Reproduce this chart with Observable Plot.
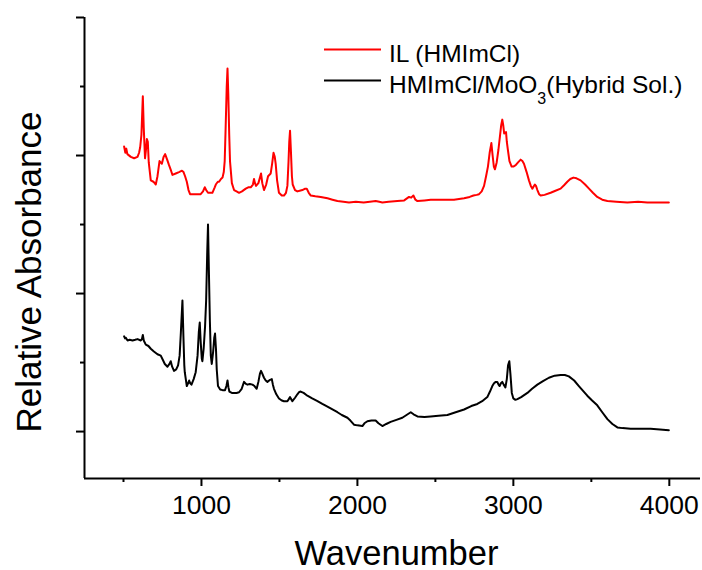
<!DOCTYPE html>
<html><head><meta charset="utf-8">
<script src="https://cdn.jsdelivr.net/npm/d3@7"></script>
<script src="https://cdn.jsdelivr.net/npm/@observablehq/plot@0.6"></script>
<style>
body{margin:0;background:#fff;}
#wrap{position:relative;width:702px;height:570px;overflow:hidden;}
#wrap svg{font-family:"Liberation Sans",Arial,sans-serif;}
#legend{position:absolute;left:0;top:0;pointer-events:none;}
</style></head><body><div id="wrap"></div>
<script>
// ---- data (wavenumber, relative absorbance) ----
const ilSpectrum = [[504,2.065],[512,2.02],[518,2.05],[525,2.01],[547,1.99],[568,1.98],[590,1.99],[600,2.02],[607,2.06],[615,2.15],[624,2.43],[630,2.2],[638,1.98],[645,2.05],[650,2.12],[656,2.1],[662,1.95],[675,1.82],[692,1.81],[700,1.8],[707,1.79],[718,1.85],[731,1.96],[738,1.95],[746,1.94],[757,1.99],[767,2.01],[780,1.97],[792,1.93],[805,1.89],[814,1.86],[835,1.87],[856,1.88],[875,1.89],[885,1.88],[895,1.85],[906,1.81],[917,1.75],[927,1.72],[945,1.72],[963,1.72],[980,1.72],[995,1.72],[1010,1.74],[1021,1.77],[1030,1.75],[1042,1.73],[1070,1.73],[1085,1.77],[1092,1.79],[1105,1.81],[1113,1.81],[1125,1.83],[1135,1.84],[1143,1.88],[1149,1.96],[1155,2.2],[1162,2.5],[1167,2.63],[1172,2.45],[1178,2.15],[1183,1.96],[1195,1.8],[1209,1.75],[1225,1.74],[1241,1.73],[1260,1.74],[1284,1.76],[1300,1.77],[1316,1.77],[1330,1.79],[1337,1.83],[1343,1.8],[1350,1.78],[1365,1.8],[1375,1.84],[1382,1.87],[1390,1.8],[1401,1.75],[1415,1.79],[1427,1.85],[1444,1.87],[1453,1.94],[1462,2.02],[1470,1.99],[1476,1.94],[1485,1.82],[1497,1.73],[1515,1.71],[1529,1.71],[1542,1.73],[1551,1.78],[1558,1.95],[1563,2.1],[1568,2.18],[1573,2.05],[1580,1.85],[1585,1.79],[1600,1.75],[1615,1.74],[1630,1.745],[1647,1.75],[1665,1.76],[1675,1.76],[1688,1.73],[1701,1.71],[1730,1.705],[1765,1.7],[1808,1.69],[1840,1.68],[1872,1.67],[1910,1.665],[1946,1.66],[1990,1.665],[2040,1.66],[2080,1.665],[2117,1.67],[2140,1.665],[2160,1.66],[2200,1.665],[2256,1.67],[2300,1.675],[2331,1.7],[2345,1.695],[2359,1.71],[2372,1.68],[2385,1.67],[2430,1.675],[2470,1.68],[2540,1.68],[2619,1.68],[2684,1.69],[2720,1.7],[2744,1.71],[2765,1.715],[2780,1.72],[2797,1.74],[2812,1.78],[2825,1.85],[2837,1.92],[2848,2.02],[2859,2.09],[2867,2.0],[2875,1.92],[2882,1.9],[2893,1.95],[2904,2.04],[2915,2.15],[2922,2.22],[2929,2.26],[2935,2.22],[2941,2.16],[2946,2.165],[2953,2.17],[2958,2.1],[2965,2.04],[2975,1.96],[2989,1.92],[3000,1.92],[3015,1.93],[3030,1.95],[3047,1.97],[3058,1.96],[3068,1.94],[3085,1.88],[3100,1.82],[3112,1.78],[3122,1.76],[3130,1.775],[3138,1.79],[3145,1.78],[3154,1.75],[3165,1.72],[3175,1.71],[3200,1.715],[3239,1.73],[3270,1.745],[3303,1.76],[3325,1.785],[3346,1.81],[3365,1.83],[3385,1.84],[3405,1.835],[3431,1.82],[3460,1.79],[3485,1.76],[3510,1.73],[3538,1.7],[3570,1.68],[3603,1.67],[3660,1.665],[3731,1.66],[3800,1.665],[3859,1.66],[3930,1.66],[3997,1.66]];
const hybridSpectrum = [[504,0.69],[510,0.675],[515,0.68],[526,0.66],[540,0.665],[558,0.66],[575,0.665],[590,0.67],[611,0.66],[618,0.67],[624,0.7],[630,0.66],[643,0.63],[660,0.62],[675,0.6],[695,0.58],[718,0.56],[739,0.55],[752,0.52],[765,0.49],[782,0.47],[795,0.49],[803,0.51],[812,0.47],[824,0.44],[838,0.45],[850,0.48],[860,0.55],[868,0.72],[878,0.95],[884,0.7],[890,0.48],[893,0.43],[906,0.33],[914,0.35],[921,0.37],[928,0.35],[936,0.34],[950,0.38],[963,0.43],[975,0.55],[983,0.72],[989,0.79],[995,0.65],[1002,0.53],[1006,0.51],[1014,0.6],[1023,0.76],[1030,0.95],[1037,1.3],[1042,1.5],[1047,1.2],[1054,0.8],[1060,0.55],[1066,0.49],[1075,0.58],[1082,0.68],[1087,0.71],[1093,0.6],[1098,0.45],[1106,0.33],[1120,0.305],[1135,0.3],[1151,0.3],[1160,0.33],[1167,0.37],[1173,0.32],[1179,0.29],[1195,0.28],[1209,0.28],[1225,0.28],[1241,0.285],[1258,0.31],[1273,0.36],[1285,0.345],[1295,0.34],[1310,0.345],[1327,0.34],[1340,0.33],[1354,0.31],[1365,0.36],[1375,0.42],[1382,0.44],[1390,0.42],[1401,0.39],[1412,0.37],[1423,0.36],[1440,0.375],[1451,0.38],[1458,0.34],[1465,0.31],[1480,0.27],[1497,0.24],[1515,0.225],[1529,0.22],[1551,0.22],[1560,0.235],[1568,0.25],[1575,0.235],[1583,0.22],[1600,0.245],[1615,0.27],[1625,0.285],[1636,0.29],[1655,0.28],[1679,0.26],[1710,0.24],[1744,0.22],[1775,0.2],[1808,0.18],[1840,0.16],[1872,0.14],[1900,0.12],[1936,0.1],[1955,0.08],[1978,0.05],[2000,0.045],[2032,0.04],[2045,0.06],[2064,0.075],[2090,0.08],[2117,0.08],[2135,0.06],[2160,0.04],[2185,0.055],[2213,0.07],[2250,0.085],[2288,0.1],[2315,0.12],[2342,0.14],[2360,0.125],[2385,0.11],[2430,0.105],[2470,0.11],[2520,0.115],[2577,0.12],[2630,0.14],[2684,0.16],[2730,0.185],[2769,0.2],[2800,0.22],[2833,0.25],[2850,0.29],[2865,0.33],[2876,0.35],[2887,0.36],[2897,0.36],[2905,0.34],[2912,0.33],[2920,0.35],[2929,0.36],[2938,0.34],[2949,0.32],[2958,0.38],[2966,0.48],[2974,0.51],[2981,0.42],[2990,0.28],[3000,0.24],[3013,0.23],[3026,0.235],[3050,0.25],[3090,0.28],[3120,0.31],[3154,0.34],[3190,0.365],[3228,0.39],[3265,0.405],[3303,0.41],[3330,0.41],[3356,0.4],[3390,0.37],[3420,0.33],[3447,0.295],[3474,0.26],[3505,0.225],[3538,0.19],[3570,0.14],[3603,0.09],[3635,0.055],[3667,0.03],[3700,0.025],[3752,0.02],[3820,0.02],[3880,0.02],[3940,0.015],[3997,0.01]];
const xMajorTicks = [1000, 2000, 3000, 4000];
const xMinorTicks = [500, 1500, 2500, 3500];
const yMajorTicks = [0, 1, 2, 3];
const yMinorTicks = [0.5, 1.5, 2.5];
const xDomain = [250, 4200];
const yDomain = [-0.34, 3];
const seriesColors = ["#ff0000", "#000000"];
const xLabel = "Wavenumber";
const yLabel = "Relative Absorbance";
const legendMain = ["IL (HMImCl)", "HMImCl/MoO"];
const legendSub = "3";
const legendTail = "(Hybrid Sol.)";

const font = '"Liberation Sans", Arial, sans-serif';
const chart = Plot.plot({
  width: 702, height: 570,
  marginLeft: 84, marginRight: 2, marginTop: 17, marginBottom: 92,
  style: {fontFamily: font, background: "#fff", color: "#000"},
  x: {domain: xDomain},
  y: {domain: yDomain},
  marks: [
    Plot.axisX({ticks: xMinorTicks, tickSize: 4, text: null, strokeWidth: 2, label: null}),
    Plot.axisX({ticks: xMajorTicks, tickSize: 8, tickPadding: 9, fontSize: 26.5, strokeWidth: 2, label: null, tickFormat: d => String(d)}),
    Plot.axisY({ticks: yMinorTicks, tickSize: 4, text: null, strokeWidth: 2, label: null}),
    Plot.axisY({ticks: yMajorTicks, tickSize: 8, text: null, strokeWidth: 2, label: null}),
    Plot.ruleX([xDomain[0]], {stroke: "#000", strokeWidth: 2}),
    Plot.ruleY([yDomain[0]], {stroke: "#000", strokeWidth: 2}),
    Plot.line(ilSpectrum, {x: d => d[0], y: d => d[1], stroke: seriesColors[0], strokeWidth: 2}),
    Plot.line(hybridSpectrum, {x: d => d[0], y: d => d[1], stroke: seriesColors[1], strokeWidth: 2}),
    Plot.text([xLabel], {text: d => d, frameAnchor: "bottom", textAnchor: "middle", lineAnchor: "bottom", dx: 4, dy: 86, fontSize: 34.5, fill: "#000"}),
    Plot.text([yLabel], {text: d => d, frameAnchor: "left", textAnchor: "middle", lineAnchor: "bottom", rotate: -90, dx: -44, dy: 24, fontSize: 35, fill: "#000"})
  ]
});
const wrap = document.getElementById("wrap");
wrap.appendChild(chart);

// legend overlay
const ns = "http://www.w3.org/2000/svg";
const lg = document.createElementNS(ns, "svg");
lg.setAttribute("id", "legend");
lg.setAttribute("width", 702);
lg.setAttribute("height", 570);
const rows = [49.5, 80.5];
rows.forEach((yy, i) => {
  const ln = document.createElementNS(ns, "line");
  ln.setAttribute("x1", 324); ln.setAttribute("x2", 381);
  ln.setAttribute("y1", yy); ln.setAttribute("y2", yy);
  ln.setAttribute("stroke", seriesColors[i]); ln.setAttribute("stroke-width", 2);
  lg.appendChild(ln);
  const t = document.createElementNS(ns, "text");
  t.setAttribute("x", 389); t.setAttribute("y", yy + 12);
  t.setAttribute("font-size", 24.5);
  t.setAttribute("fill", "#000");
  t.setAttribute("font-family", font);
  t.textContent = legendMain[i];
  if (i === 1) {
    const s = document.createElementNS(ns, "tspan");
    s.setAttribute("font-size", 16); s.setAttribute("dy", 11);
    s.textContent = legendSub;
    const r = document.createElementNS(ns, "tspan");
    r.setAttribute("dy", -11);
    r.textContent = legendTail;
    t.appendChild(s); t.appendChild(r);
  }
  lg.appendChild(t);
});
wrap.appendChild(lg);
</script></body></html>
